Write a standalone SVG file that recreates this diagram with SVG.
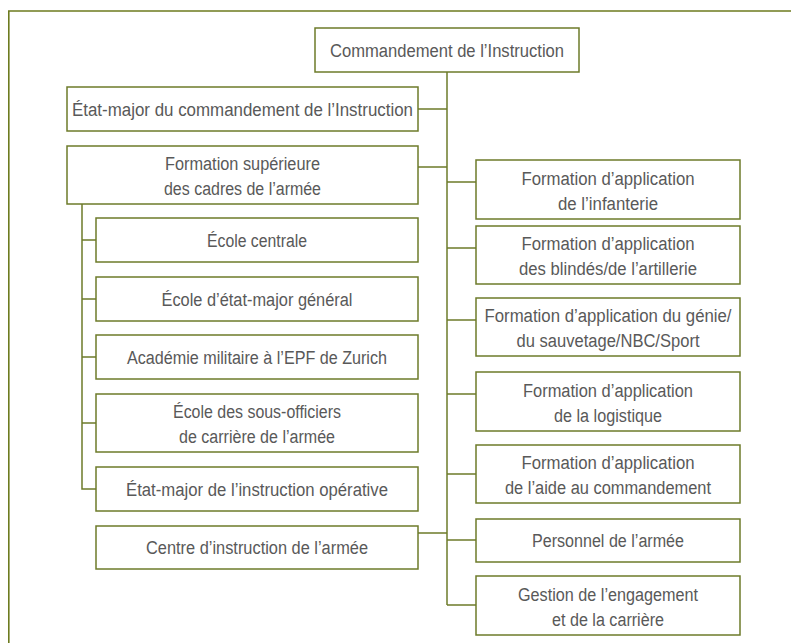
<svg xmlns="http://www.w3.org/2000/svg" width="791" height="643" viewBox="0 0 791 643">
<style>
.box{fill:#fff;stroke:#6d7b2a;stroke-width:1.5}
.frame{fill:none;stroke:#6d7b1f;stroke-width:1.6}
.con{fill:none;stroke:#6d7b2a;stroke-width:1.5}
text{font-family:"Liberation Sans Narrow","Liberation Sans",Arial,sans-serif;font-size:18px;fill:#595959;text-anchor:middle}
</style>
<rect width="791" height="643" fill="#fff"/>
<path class="frame" d="M791,11 H8.8 V643"/>
<g id="connectors">
<path class="con" d="M447,72 V605"/>
<path class="con" d="M418,109 H447 M418,167 H447 M418,533 H447"/>
<path class="con" d="M447,182 H476 M447,248 H476 M447,320 H476 M447,394 H476 M447,474 H476 M447,540 H476 M447,605 H476"/>
<path class="con" d="M82,204 V489 H96 M82,240 H96 M82,299 H96 M82,357 H96 M82,423 H96"/>
</g>
<g id="n-commandement"><rect class="box" x="315" y="28" width="264" height="44"/><text x="447" y="56.5" textLength="234" lengthAdjust="spacingAndGlyphs">Commandement de l’Instruction</text></g>
<g id="n-etat-major"><rect class="box" x="67" y="87" width="351" height="44"/><text x="242.5" y="115.5" textLength="341" lengthAdjust="spacingAndGlyphs">État-major du commandement de l’Instruction</text></g>
<g id="n-formation-sup"><rect class="box" x="67" y="146" width="351" height="58"/><text x="242.5" y="170" textLength="155" lengthAdjust="spacingAndGlyphs">Formation supérieure</text><text x="242.5" y="195" textLength="157" lengthAdjust="spacingAndGlyphs">des cadres de l’armée</text></g>
<g id="n-ecole-centrale"><rect class="box" x="96" y="218" width="322" height="44"/><text x="257" y="246.5" textLength="100" lengthAdjust="spacingAndGlyphs">École centrale</text></g>
<g id="n-ecole-em"><rect class="box" x="96" y="277" width="322" height="44"/><text x="257" y="305.5" textLength="191" lengthAdjust="spacingAndGlyphs">École d’état-major général</text></g>
<g id="n-academie"><rect class="box" x="96" y="335" width="322" height="44"/><text x="257" y="363.5" textLength="260" lengthAdjust="spacingAndGlyphs">Académie militaire à l’EPF de Zurich</text></g>
<g id="n-ecole-sof"><rect class="box" x="96" y="394" width="322" height="58"/><text x="257" y="418" textLength="168" lengthAdjust="spacingAndGlyphs">École des sous-officiers</text><text x="257" y="443" textLength="156" lengthAdjust="spacingAndGlyphs">de carrière de l’armée</text></g>
<g id="n-em-instr-op"><rect class="box" x="96" y="467" width="322" height="44"/><text x="257" y="495.5" textLength="262" lengthAdjust="spacingAndGlyphs">État-major de l’instruction opérative</text></g>
<g id="n-centre"><rect class="box" x="96" y="526" width="322" height="43"/><text x="257" y="554" textLength="222" lengthAdjust="spacingAndGlyphs">Centre d’instruction de l’armée</text></g>
<g id="n-infanterie"><rect class="box" x="476" y="160" width="264" height="59"/><text x="608" y="184.5" textLength="173" lengthAdjust="spacingAndGlyphs">Formation d’application</text><text x="608" y="209.5" textLength="100" lengthAdjust="spacingAndGlyphs">de l’infanterie</text></g>
<g id="n-blindes"><rect class="box" x="476" y="226" width="264" height="58"/><text x="608" y="250" textLength="173" lengthAdjust="spacingAndGlyphs">Formation d’application</text><text x="608" y="275" textLength="178" lengthAdjust="spacingAndGlyphs">des blindés/de l’artillerie</text></g>
<g id="n-genie"><rect class="box" x="476" y="298" width="264" height="58"/><text x="608" y="322" textLength="247" lengthAdjust="spacingAndGlyphs">Formation d’application du génie/</text><text x="608" y="347" textLength="183" lengthAdjust="spacingAndGlyphs">du sauvetage/NBC/Sport</text></g>
<g id="n-logistique"><rect class="box" x="476" y="372" width="264" height="59"/><text x="608" y="396.5" textLength="170" lengthAdjust="spacingAndGlyphs">Formation d’application</text><text x="608" y="421.5" textLength="108" lengthAdjust="spacingAndGlyphs">de la logistique</text></g>
<g id="n-aide-cdmt"><rect class="box" x="476" y="445" width="264" height="58"/><text x="608" y="469" textLength="173" lengthAdjust="spacingAndGlyphs">Formation d’application</text><text x="608" y="494" textLength="206" lengthAdjust="spacingAndGlyphs">de l’aide au commandement</text></g>
<g id="n-personnel"><rect class="box" x="476" y="519" width="264" height="43"/><text x="608" y="547" textLength="152" lengthAdjust="spacingAndGlyphs">Personnel de l’armée</text></g>
<g id="n-gestion"><rect class="box" x="476" y="576" width="264" height="59"/><text x="608" y="600.5" textLength="180" lengthAdjust="spacingAndGlyphs">Gestion de l’engagement</text><text x="608" y="625.5" textLength="112" lengthAdjust="spacingAndGlyphs">et de la carrière</text></g>
</svg>
